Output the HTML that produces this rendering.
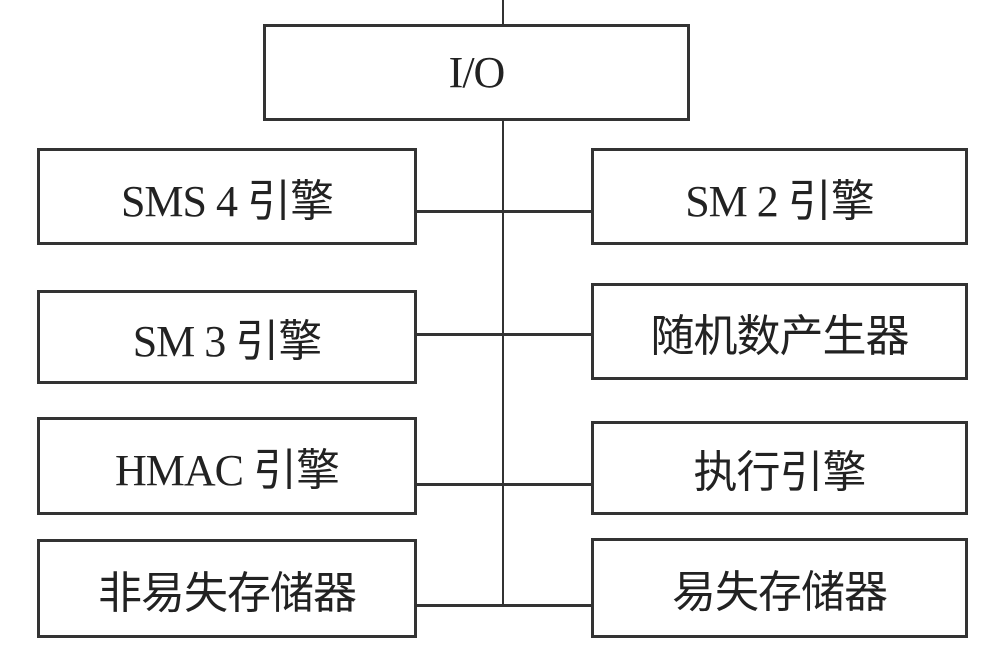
<!DOCTYPE html>
<html><head><meta charset="utf-8"><style>
body{margin:0;width:1000px;height:672px;background:#fff;position:relative;overflow:hidden;font-family:"Liberation Serif","Noto Sans CJK SC",serif;color:#222}
.b{position:absolute;border:3px solid #333;box-sizing:border-box;display:flex;align-items:center;justify-content:center;font-size:44px;letter-spacing:-1px}
.l{position:absolute;background:#333}
</style></head><body>
<div class="l" style="left:502px;top:0;width:2px;height:607px"></div>
<div class="l" style="left:417px;top:210px;width:174px;height:3px"></div>
<div class="l" style="left:417px;top:333px;width:174px;height:3px"></div>
<div class="l" style="left:417px;top:483px;width:174px;height:3px"></div>
<div class="l" style="left:417px;top:604px;width:174px;height:3px"></div>
<div class="b" style="left:263px;top:24px;width:427px;height:97px;background:#fff">I/O</div>
<div class="b" style="left:37px;top:148px;width:380px;height:97px">SMS 4 引擎</div>
<div class="b" style="left:591px;top:148px;width:377px;height:97px">SM 2 引擎</div>
<div class="b" style="left:37px;top:290px;width:380px;height:94px">SM 3 引擎</div>
<div class="b" style="left:591px;top:283px;width:377px;height:97px">随机数产生器</div>
<div class="b" style="left:37px;top:417px;width:380px;height:98px">HMAC 引擎</div>
<div class="b" style="left:591px;top:421px;width:377px;height:94px">执行引擎</div>
<div class="b" style="left:37px;top:539px;width:380px;height:99px">非易失存储器</div>
<div class="b" style="left:591px;top:538px;width:377px;height:100px">易失存储器</div>
</body></html>
